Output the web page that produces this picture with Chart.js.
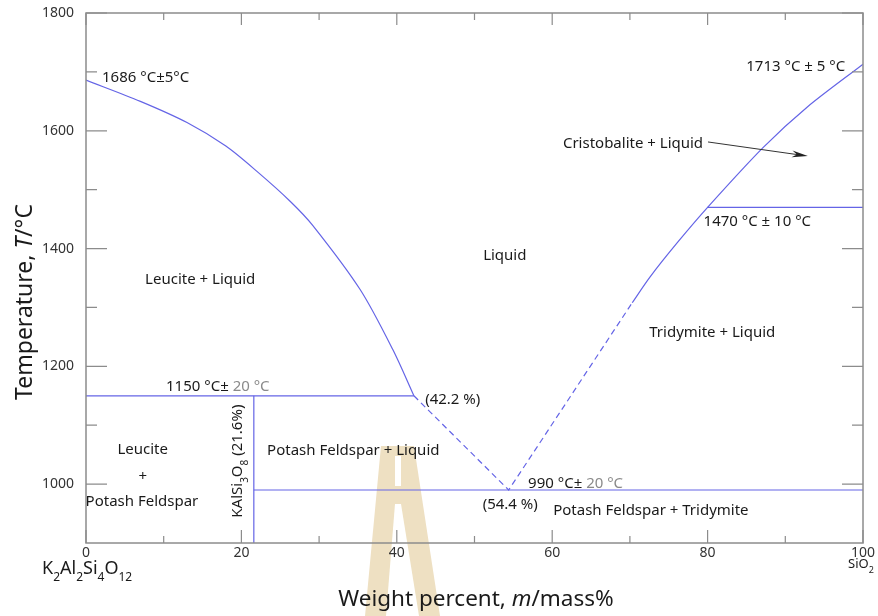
<!DOCTYPE html>
<html>
<head>
<meta charset="utf-8">
<script src="https://cdn.jsdelivr.net/npm/chart.js@4.4.1/dist/chart.umd.min.js"></script>
<style>
  body { margin: 0; background: #fff; }
  canvas { display: block; }
</style>
</head>
<body>
<canvas id="grafico_fases" width="878" height="616"></canvas>
<script>
const leuciteX = [0, 7, 13, 18, 22, 26.3, 29.2, 35.3, 39.5, 42.2];
const leuciteT = [1686, 1650, 1614, 1574, 1531, 1480, 1439, 1330, 1228, 1150];
const dashedX = [42.2, 54.4, 70.3];
const dashedT = [1150, 990, 1308];
const silicaX = [70.3, 72.6, 76.1, 80, 87.1, 92.8, 100];
const silicaT = [1308, 1352, 1410, 1470, 1571, 1640, 1713];
const line1150X = [0, 42.2];
const line1150T = [1150, 1150];
const line216X = [21.6, 21.6];
const line216T = [900, 1150];
const line990X = [21.6, 100];
const line990T = [990, 990];
const line1470X = [80, 100];
const line1470T = [1470, 1470];
const arrowX = [80.05, 92.9];
const arrowT = [1581, 1557];

const xMajor = [0, 20, 40, 60, 80, 100];
const xMinor = [10, 30, 50, 70, 90];
const yMajor = [1000, 1200, 1400, 1600, 1800];
const yMinor = [1100, 1300, 1500, 1700];

const FONT = '"Noto Sans", "Open Sans", sans-serif';
const LINE = 'rgb(100, 100, 230)';
const AXIS = '#8c8c8c';
const GRAY = '#8a8a8a';
const TEXT = '#1a1a1a';

const pts = (xs, ts) => xs.map((x, i) => ({ x: x, y: ts[i] }));

// Textos do diagrama, ancorados em coordenadas de dados
const rotulos = [
    { x: 2.06, t: 1690, align: 'left', parts: [{ s: '1686 °C±5°C' }] },
    { x: 97.7, t: 1708, align: 'right', parts: [{ s: '1713 °C ± 5 °C' }] },
    { x: 70.4, t: 1578, parts: [{ s: 'Cristobalite + Liquid' }] },
    { x: 86.4, t: 1445, parts: [{ s: '1470 °C ± 10 °C' }] },
    { x: 53.9, t: 1387, parts: [{ s: 'Liquid' }] },
    { x: 14.7, t: 1347, parts: [{ s: 'Leucite + Liquid' }] },
    { x: 80.6, t: 1257, parts: [{ s: 'Tridymite + Liquid' }] },
    { x: 10.3, t: 1165, align: 'left', parts: [{ s: '1150 °C±' }, { s: ' 20 °C', color: GRAY }] },
    { x: 47.2, t: 1143, parts: [{ s: '(42.2 %)' }] },
    { x: 7.3, t: 1058, parts: [{ s: 'Leucite' }] },
    { x: 7.3, t: 1012, parts: [{ s: '+' }] },
    { x: 7.2, t: 970, parts: [{ s: 'Potash Feldspar' }] },
    { x: 34.4, t: 1056, parts: [{ s: 'Potash Feldspar + Liquid' }] },
    { x: 56.9, t: 1000, align: 'left', parts: [{ s: '990 °C±' }, { s: ' 20 °C', color: GRAY }] },
    { x: 54.6, t: 965, parts: [{ s: '(54.4 %)' }] },
    { x: 72.7, t: 954, parts: [{ s: 'Potash Feldspar + Tridymite' }] }
];

// Desenha texto com partes subscritas / itálicas / coloridas
function textoRico(ctx, parts, x, y, align, size) {
    const fontDe = p => `${p.italic ? 'italic ' : ''}${p.sub ? Math.round(size * 0.68) : size}px ${FONT}`;
    let total = 0;
    parts.forEach(p => { ctx.font = fontDe(p); total += ctx.measureText(p.s).width; });
    let cx = align === 'left' ? x : align === 'right' ? x - total : x - total / 2;
    ctx.textAlign = 'left';
    ctx.textBaseline = 'middle';
    parts.forEach(p => {
        ctx.font = fontDe(p);
        ctx.fillStyle = p.color || TEXT;
        ctx.fillText(p.s, cx, p.sub ? y + size * 0.5 : y);
        cx += ctx.measureText(p.s).width;
    });
}

const pluginDiagrama = {
    id: 'diagrama',
    beforeDraw(chart) {
        // marca d'água ao fundo
        const ctx = chart.ctx;
        ctx.save();
        ctx.fillStyle = '#eee0c2';
        ctx.beginPath();
        ctx.moveTo(381, 446); ctx.lineTo(414, 446); ctx.lineTo(440, 616); ctx.lineTo(365, 616);
        ctx.closePath(); ctx.fill();
        ctx.fillStyle = '#fff';
        ctx.fillRect(395, 456, 6, 30);
        ctx.beginPath();
        ctx.moveTo(395, 504); ctx.lineTo(401, 504); ctx.lineTo(419, 616); ctx.lineTo(386, 616);
        ctx.closePath(); ctx.fill();
        ctx.restore();
    },
    afterDraw(chart) {
        const ctx = chart.ctx;
        const sx = chart.scales.x, sy = chart.scales.y;
        const a = chart.chartArea;
        ctx.save();

        // moldura
        ctx.strokeStyle = AXIS;
        ctx.lineWidth = 1.5;
        ctx.strokeRect(a.left, a.top, a.right - a.left, a.bottom - a.top);

        // marcas voltadas para dentro
        ctx.lineWidth = 1.2;
        ctx.beginPath();
        const tickX = (v, lenB, lenT) => {
            const px = sx.getPixelForValue(v);
            ctx.moveTo(px, a.bottom); ctx.lineTo(px, a.bottom - lenB);
            ctx.moveTo(px, a.top); ctx.lineTo(px, a.top + lenT);
        };
        const tickY = (v, len) => {
            const py = sy.getPixelForValue(v);
            ctx.moveTo(a.left, py); ctx.lineTo(a.left + len, py);
            ctx.moveTo(a.right, py); ctx.lineTo(a.right - len, py);
        };
        xMajor.forEach(v => tickX(v, 13, 12));
        xMinor.forEach(v => tickX(v, 7, 7));
        yMajor.forEach(v => tickY(v, 21));
        yMinor.forEach(v => tickY(v, 11));
        ctx.stroke();

        // seta "Cristobalite + Liquid"
        const x0 = sx.getPixelForValue(arrowX[0]), y0 = sy.getPixelForValue(arrowT[0]);
        const x1 = sx.getPixelForValue(arrowX[1]), y1 = sy.getPixelForValue(arrowT[1]);
        const ang = Math.atan2(y1 - y0, x1 - x0);
        const c = Math.cos(ang), s = Math.sin(ang);
        ctx.strokeStyle = '#333';
        ctx.fillStyle = '#222';
        ctx.lineWidth = 1;
        ctx.beginPath();
        ctx.moveTo(x0, y0); ctx.lineTo(x1 - 10 * c, y1 - 10 * s);
        ctx.stroke();
        ctx.beginPath();
        ctx.moveTo(x1, y1);
        ctx.lineTo(x1 - 16 * c + 3.5 * s, y1 - 16 * s - 3.5 * c);
        ctx.lineTo(x1 - 11 * c, y1 - 11 * s);
        ctx.lineTo(x1 - 16 * c - 3.5 * s, y1 - 16 * s + 3.5 * c);
        ctx.closePath();
        ctx.fill();

        // rótulos das regiões
        rotulos.forEach(r => {
            textoRico(ctx, r.parts, sx.getPixelForValue(r.x), sy.getPixelForValue(r.t), r.align || 'center', 15);
        });

        // KAlSi3O8 (21.6%) na vertical
        ctx.save();
        ctx.translate(sx.getPixelForValue(19.8) - 2, sy.getPixelForValue(1039));
        ctx.rotate(-Math.PI / 2);
        textoRico(ctx, [{ s: 'KAlSi' }, { s: '3', sub: true }, { s: 'O' }, { s: '8', sub: true }, { s: ' (21.6%)' }], 0, 0, 'center', 15);
        ctx.restore();

        // fórmulas dos extremos
        textoRico(ctx, [{ s: 'K' }, { s: '2', sub: true }, { s: 'Al' }, { s: '2', sub: true }, { s: 'Si' },
            { s: '4', sub: true }, { s: 'O' }, { s: '12', sub: true }], 42, 569, 'left', 18);
        textoRico(ctx, [{ s: 'SiO' }, { s: '2', sub: true }], 848, 564, 'left', 13);

        // títulos dos eixos
        textoRico(ctx, [{ s: 'Weight percent, ' }, { s: 'm', italic: true }, { s: '/mass%' }], 476, 600, 'center', 22.5);
        ctx.save();
        ctx.translate(25, 302);
        ctx.rotate(-Math.PI / 2);
        textoRico(ctx, [{ s: 'Temperature, ' }, { s: 'T', italic: true }, { s: '/°C' }], 0, 0, 'center', 23);
        ctx.restore();

        ctx.restore();
    }
};

function initGrafico() {
    const ctx = document.getElementById('grafico_fases').getContext('2d');
    const serie = (xs, ts, opts) => Object.assign({
        data: pts(xs, ts),
        showLine: true,
        borderColor: LINE,
        borderWidth: 1.2,
        borderDash: [],
        pointRadius: 0,
        tension: 0,
        fill: false
    }, opts || {});

    new Chart(ctx, {
        type: 'scatter',
        data: {
            datasets: [
                serie(leuciteX, leuciteT, { tension: 0.3 }),
                serie(dashedX, dashedT, { borderDash: [6, 4] }),
                serie(silicaX, silicaT, { tension: 0.3 }),
                serie(line1150X, line1150T),
                serie(line216X, line216T),
                serie(line990X, line990T),
                serie(line1470X, line1470T)
            ]
        },
        options: {
            responsive: false,
            devicePixelRatio: 1,
            animation: false,
            layout: { padding: { top: 13, right: 15, left: 0, bottom: 0 } },
            plugins: { legend: { display: false }, tooltip: { enabled: false } },
            scales: {
                x: {
                    type: 'linear', min: 0, max: 100,
                    grid: { display: false }, border: { display: false },
                    afterBuildTicks: s => { s.ticks = xMajor.map(v => ({ value: v })); },
                    afterFit: s => { s.height = 73; },
                    ticks: { padding: -6, color: '#333', font: { family: FONT, size: 14 }, maxRotation: 0,
                        callback: v => String(v) }
                },
                y: {
                    type: 'linear', min: 900, max: 1800,
                    grid: { display: false }, border: { display: false },
                    afterBuildTicks: s => { s.ticks = yMajor.map(v => ({ value: v })); },
                    afterFit: s => { s.width = 86; },
                    ticks: { padding: 4, color: '#333', font: { family: FONT, size: 14 },
                        callback: v => String(v) }
                }
            }
        },
        plugins: [pluginDiagrama]
    });
}

initGrafico();
</script>
</body>
</html>
